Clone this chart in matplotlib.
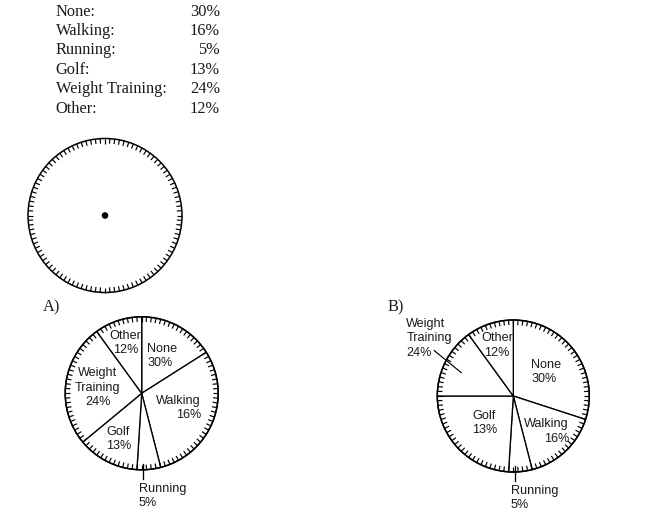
import numpy as np
import matplotlib
matplotlib.use("Agg")
import matplotlib.pyplot as plt
from matplotlib.collections import LineCollection

# table of the question
activities = ["None:", "Walking:", "Running:", "Golf:", "Weight Training:", "Other:"]
percents = [30, 16, 5, 13, 24, 12]

# wedge labels (same order as the table, clockwise from 12 o'clock)
pie_names = ["None", "Walking", "Running", "Golf", "Weight\nTraining", "Other"]
pie_pcts = ["30%", "16%", "5%", "13%", "24%", "12%"]

# wedge sizes as drawn in each answer choice
a_sizes = [16, 30, 5, 13, 26, 10]
b_sizes = [30, 16, 5, 24, 15, 10]

W, H = 650, 524
SANS = "Liberation Sans"
SERIF = "Liberation Serif"
INK = "#1a1a1a"
LABEL_FS = 9.1
LS = 1.25


def py(y):
    # pixel row (from top) -> data y
    return H - y


def dial(ax, cx, cy, r, n=100, tick=5):
    ang = np.linspace(0, 2 * np.pi, n, endpoint=False)
    segs = [[(cx + r * np.sin(a), py(cy) + r * np.cos(a)),
             (cx + (r - tick) * np.sin(a), py(cy) + (r - tick) * np.cos(a))]
            for a in ang]
    ax.add_collection(LineCollection(segs, colors="black", linewidths=0.85, zorder=4))
    ax.add_patch(plt.Circle((cx, py(cy)), r, fill=False, ec="black", lw=1.1, zorder=4))


def pie_chart(ax, cx, cy, r, sizes, dists, aligns, wt_outside=False):
    ax.pie(sizes, center=(cx, py(cy)), radius=r, startangle=90, counterclock=False,
           wedgeprops=dict(facecolor="white", edgecolor="black", linewidth=0.95))
    dial(ax, cx, cy, r)
    edges = np.cumsum([0] + sizes)
    for i, (name, pct) in enumerate(zip(pie_names, pie_pcts)):
        mid = np.deg2rad((edges[i] + edges[i + 1]) / 2 * 3.6)
        if name == "Running":
            ax.plot([cx + 1.7, cx + 1.7], [py(cy + r - 6), py(cy + r + 9)], color="black", lw=0.95)
            ax.text(cx - 2.7, py(cy + r + 13), name + "\n" + pct, ha="left", va="top",
                    family=SANS, fontsize=LABEL_FS, color=INK, linespacing=LS)
            continue
        if wt_outside and name.startswith("Weight"):
            ax.plot([cx + 0.75 * r * np.sin(mid - 0.05), cx + 1.2 * r * np.sin(mid + 0.05)],
                    [py(cy) + 0.75 * r * np.cos(mid - 0.05), py(cy) + 1.2 * r * np.cos(mid + 0.05)],
                    color="black", lw=0.85)
            ax.text(cx - 107, py(cy - 78), name + "\n" + pct, ha="left", va="top",
                    family=SANS, fontsize=LABEL_FS, color=INK, linespacing=LS)
            continue
        d = dists[i] * r
        ax.text(cx + d * np.sin(mid), py(cy) + d * np.cos(mid), name + "\n" + pct,
                ha="center", va="center", multialignment=aligns[i],
                family=SANS, fontsize=LABEL_FS, color=INK, linespacing=LS)


fig = plt.figure(figsize=(6.5, 5.24), dpi=100)
ax = fig.add_axes([0, 0, 1, 1])

# table
for i, (act, p) in enumerate(zip(activities, percents)):
    y = 15.7 + 19.4 * i
    ax.text(55.5, py(y), act, ha="left", va="baseline", family=SERIF, fontsize=11.8, color=INK)
    ax.text(220, py(y), f"{p}%", ha="right", va="baseline", family=SERIF, fontsize=11.8, color=INK)

# blank dial
dial(ax, 105, 215.5, 77)
ax.add_patch(plt.Circle((105, py(215.5)), 2.6, color="black"))

# answer choices
ax.text(43, py(311.5), "A)", ha="left", va="baseline", family=SERIF, fontsize=11.8, color=INK)
ax.text(387, py(311.5), "B)", ha="left", va="baseline", family=SERIF, fontsize=11.8, color=INK)

pie_chart(ax, 141.7, 393.3, 76.5, a_sizes,
          dists=[0.56, 0.52, 0, 0.67, 0.58, 0.69],
          aligns=["left", "right", "center", "center", "center", "center"])
pie_chart(ax, 513.3, 396, 76, b_sizes,
          dists=[0.54, 0.64, 0, 0.52, 0, 0.70],
          aligns=["left", "right", "center", "center", "center", "center"],
          wt_outside=True)

ax.set_xlim(0, W)
ax.set_ylim(0, H)
ax.set_aspect("auto")
ax.axis("off")
fig.savefig("out.png", dpi=100, facecolor="white")
